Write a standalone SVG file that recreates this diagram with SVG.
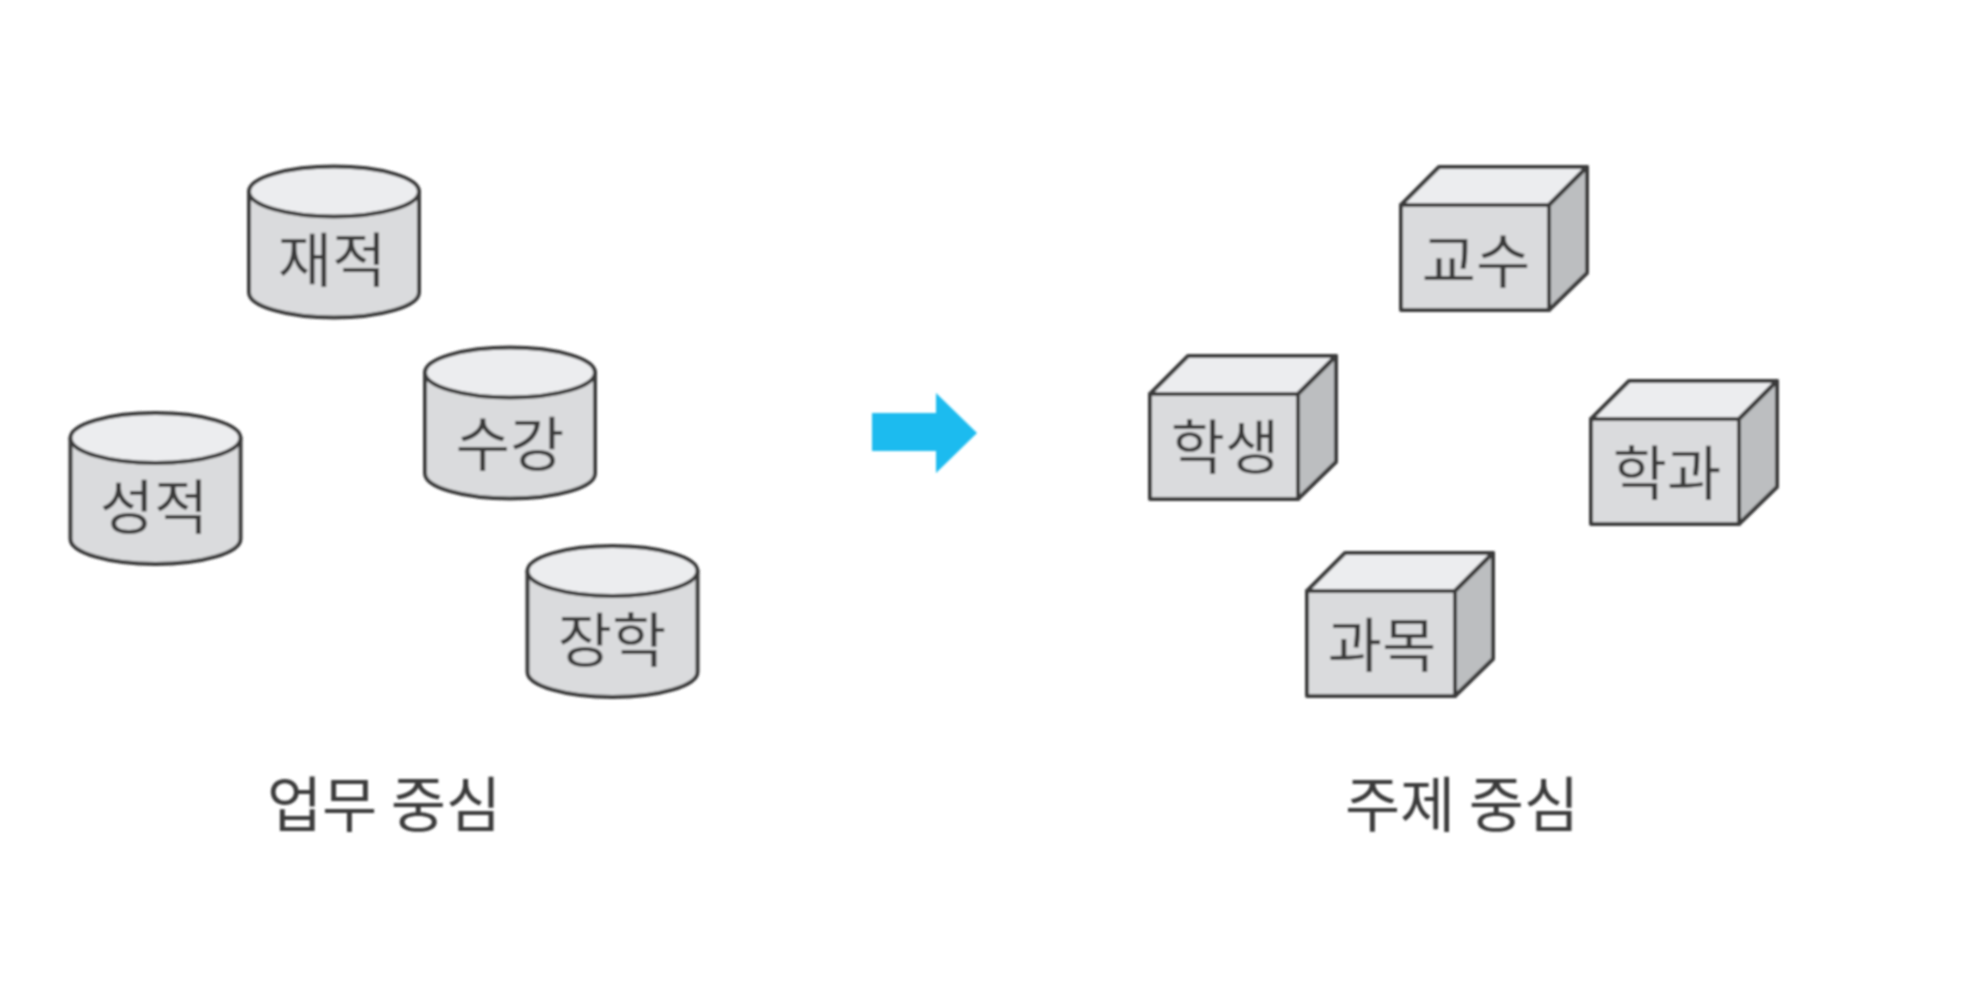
<svg xmlns="http://www.w3.org/2000/svg" width="1969" height="1000" viewBox="0 0 1969 1000">
<style>
text{font-family:"Noto Sans CJK KR","Noto Sans",sans-serif;font-size:59px;fill:#3a3a3a;text-anchor:middle}
.cap{font-size:60px}
.s{stroke:#3a3a3a;stroke-width:4;stroke-linejoin:round}
.t{fill:#ecedef}.b{fill:#dadbdd}.r{fill:#bcbec0}
</style>
<defs>
<filter id="soft" x="-5%" y="-5%" width="110%" height="110%"><feGaussianBlur stdDeviation="0.8"/></filter>
<g id="cyl">
<path class="s b" d="M-85 0V101A85 25 0 0 0 85 101V0Z"/>
<ellipse class="s t" cx="0" cy="0" rx="85" ry="25"/>
</g>
<g id="box">
<path class="s t" d="M0 38L38 0H186L148 38Z"/>
<path class="s r" d="M148 38L186 0V106L148 143Z"/>
<rect class="s b" x="0" y="38" width="148" height="105"/>
</g>
</defs>
<rect width="1969" height="1000" fill="#fff"/>
<g filter="url(#soft)">
<g id="cyl-jaejeok"><use href="#cyl" x="334" y="191.5"/><text x="332" y="282">재적</text></g>
<g id="cyl-sugang"><use href="#cyl" x="510" y="372.5"/><text x="510" y="466">수강</text></g>
<g id="cyl-seongjeok"><use href="#cyl" x="155.5" y="438"/><text x="154" y="529">성적</text></g>
<g id="cyl-janghak"><use href="#cyl" x="612.5" y="571"/><text x="612" y="662">장학</text></g>
<g id="box-gyosu"><use href="#box" x="1401" y="167"/><text x="1476" y="283">교수</text></g>
<g id="box-haksaeng"><use href="#box" x="1150" y="356"/><text x="1225" y="469">학생</text></g>
<g id="box-hakgwa"><use href="#box" x="1591" y="381"/><text x="1667" y="495">학과</text></g>
<g id="box-gwamok"><use href="#box" x="1307" y="553"/><text x="1382" y="667">과목</text></g>
<g id="connectors"><path id="arrow" fill="#1bbbef" d="M872 413H936V393L977 433L936 473V451H872Z"/></g>
<g id="captions">
<text class="cap" x="384" y="827">업무 중심</text>
<text class="cap" x="1462" y="827">주제 중심</text>
</g>
</g>
</svg>
